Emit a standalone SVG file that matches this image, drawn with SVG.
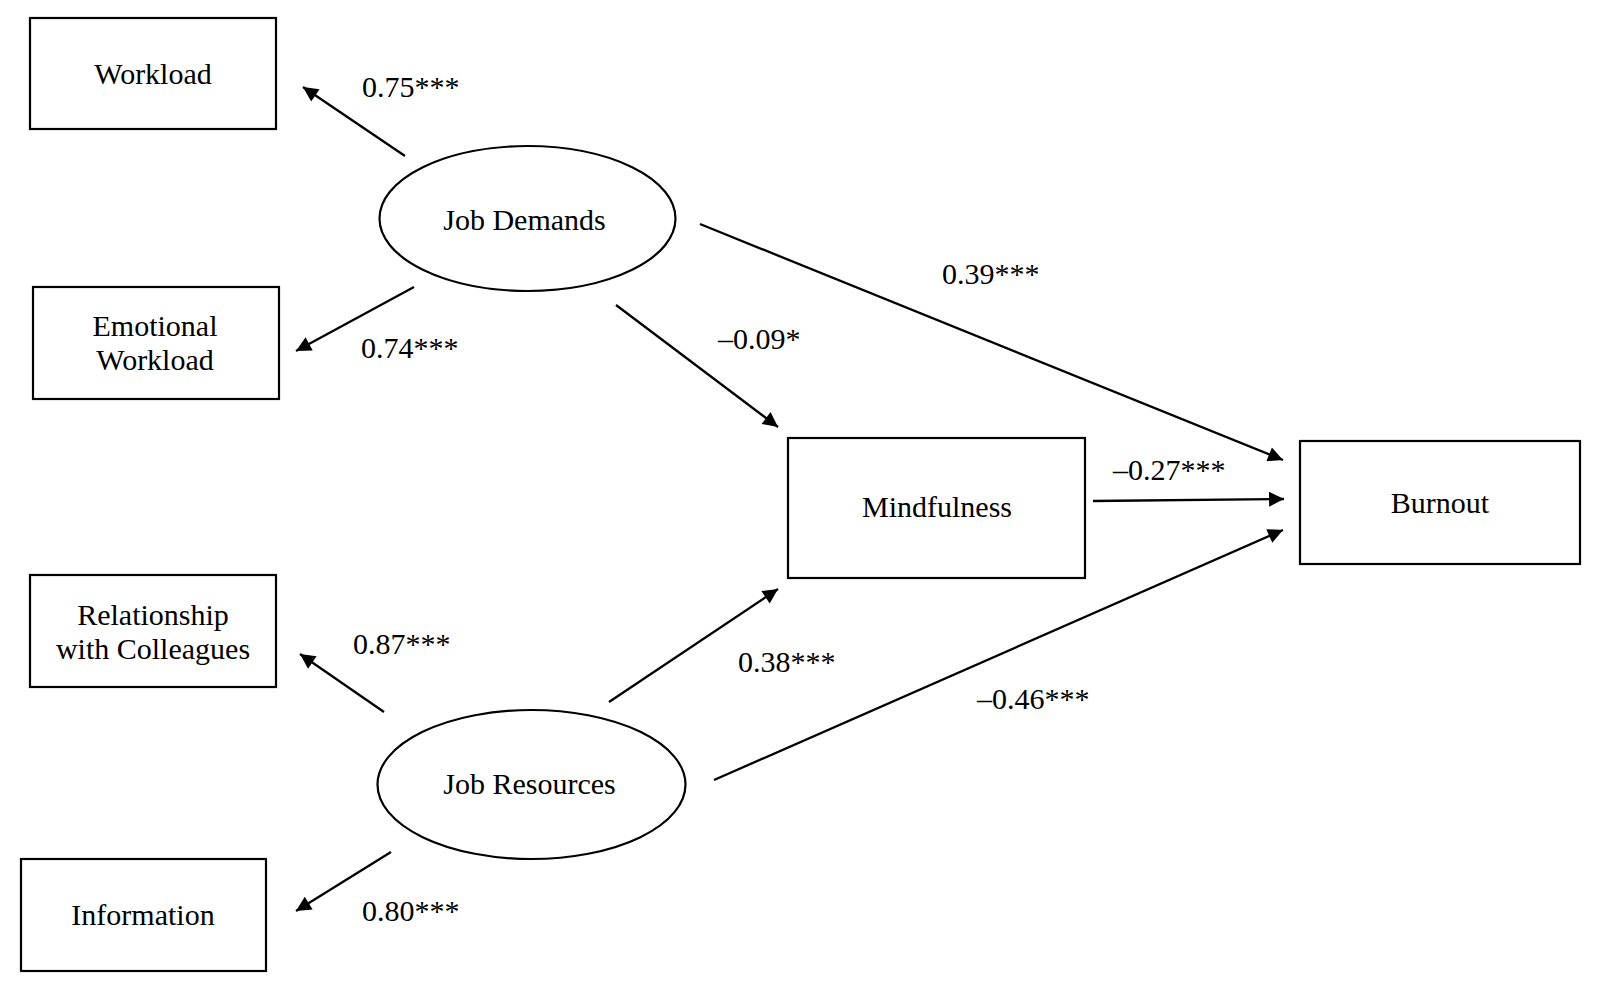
<svg xmlns="http://www.w3.org/2000/svg" width="1598" height="995" viewBox="0 0 1598 995">
<style>
.box{fill:#fff;stroke:#000;stroke-width:2.2}
.t{font-family:"Liberation Serif","Times New Roman",serif;font-size:30px;fill:#000;text-anchor:middle}
.l{font-family:"Liberation Serif","Times New Roman",serif;font-size:30px;fill:#000}
.c{stroke:#000;stroke-width:2.3;fill:none;marker-end:url(#ah)}
</style>
<defs>
<marker id="ah" viewBox="0 0 10 10" refX="10" refY="5" markerWidth="7.5" markerHeight="6.5" markerUnits="strokeWidth" orient="auto">
<path d="M0,0 L10,5 L0,10 z" fill="#000"/>
</marker>
</defs>
<rect width="1598" height="995" fill="#fff"/>
<g id="connectors">
<line class="c" x1="405" y1="156" x2="303" y2="87"/>
<line class="c" x1="414" y1="287" x2="296" y2="351"/>
<line class="c" x1="616" y1="305" x2="778" y2="427"/>
<line class="c" x1="700" y1="224" x2="1283" y2="460"/>
<line class="c" x1="1093" y1="501" x2="1284" y2="499"/>
<line class="c" x1="714" y1="780" x2="1283" y2="530"/>
<line class="c" x1="609" y1="702" x2="778" y2="589"/>
<line class="c" x1="384" y1="712" x2="300" y2="654"/>
<line class="c" x1="391" y1="852" x2="296" y2="911"/>
</g>
<g id="labels">
<text class="l" x="362" y="97">0.75***</text>
<text class="l" x="361" y="358">0.74***</text>
<text class="l" x="942" y="284">0.39***</text>
<text class="l" x="718" y="349">–0.09*</text>
<text class="l" x="1113" y="480">–0.27***</text>
<text class="l" x="353" y="654">0.87***</text>
<text class="l" x="738" y="672">0.38***</text>
<text class="l" x="977" y="709">–0.46***</text>
<text class="l" x="362" y="921">0.80***</text>
</g>
<g id="workload"><rect class="box" x="30" y="18" width="246" height="111"/><text class="t" x="153" y="84">Workload</text></g>
<g id="emotional-workload"><rect class="box" x="33" y="287" width="246" height="112"/><text class="t" x="155" y="336">Emotional</text><text class="t" x="155" y="370">Workload</text></g>
<g id="relationship"><rect class="box" x="30" y="575" width="246" height="112"/><text class="t" x="153" y="625">Relationship</text><text class="t" x="153" y="659">with Colleagues</text></g>
<g id="information"><rect class="box" x="21" y="859" width="245" height="112"/><text class="t" x="143" y="925">Information</text></g>
<g id="job-demands"><ellipse class="box" cx="527.5" cy="218.5" rx="148" ry="72.5"/><text class="t" x="524.5" y="230">Job Demands</text></g>
<g id="job-resources"><ellipse class="box" cx="531.5" cy="784.5" rx="154" ry="74.5"/><text class="t" x="529.5" y="794">Job Resources</text></g>
<g id="mindfulness"><rect class="box" x="788" y="438" width="297" height="140"/><text class="t" x="937" y="517">Mindfulness</text></g>
<g id="burnout"><rect class="box" x="1300" y="441" width="280" height="123"/><text class="t" x="1440" y="513">Burnout</text></g>
</svg>
